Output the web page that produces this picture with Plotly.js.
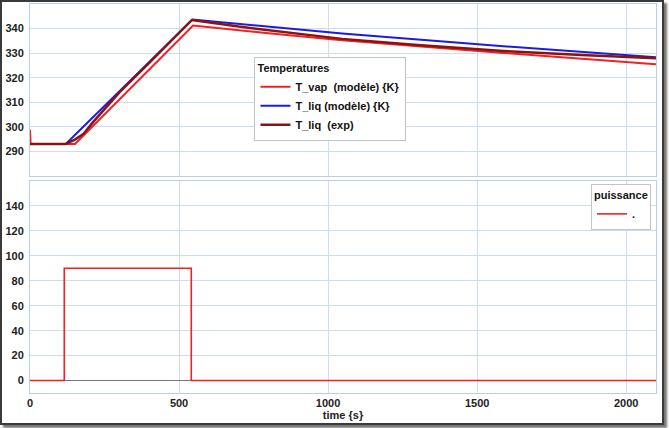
<!DOCTYPE html>
<html>
<head>
<meta charset="utf-8">
<script src="https://cdn.plot.ly/plotly-3.0.1.min.js"></script>
<style>
  html, body { margin: 0; padding: 0; background: #fff; }
  #wrap { position: relative; width: 669px; height: 428px; }
  #chart { position: absolute; left: 0; top: 0; width: 669px; height: 428px; }
  #frame { position: absolute; left: 0; top: 0; width: 660px; height: 421px;
           border: 2px solid #3a3a3a; box-shadow: 3px 3px 2px #777; pointer-events: none; }
</style>
</head>
<body>
<div id="wrap">
  <div id="chart"></div>
  <div id="frame"></div>
</div>
<script>
// ---- data ----
const tvapTime = [0, 2, 151, 547, 800, 1047, 1588, 2100];
const tvapVal  = [298.8, 293.0, 293.0, 341.2, 338.1, 335.2, 330.1, 325.5];

const tliqTime = [0, 120, 545, 1047, 1588, 2100];
const tliqVal  = [293.0, 293.0, 343.7, 338.0, 332.8, 328.3];

const texpTime = [0, 120, 152, 180, 210, 250, 300, 400, 543, 700, 850, 1047, 1300, 1588, 1850, 2100];
const texpVal  = [293.0, 293.0, 294.9, 297.2, 301.7, 307.0, 314.0, 326.0, 343.5, 340.8, 338.6, 335.8, 333.3, 330.9, 329.2, 327.9];

const powerTime = [0, 115, 115, 541, 541, 2100];
const powerVal  = [0, 0, 90, 90, 0, 0];

const seriesNames = ['T_vap  (modèle) {K}', 'T_liq (modèle) {K}', 'T_liq  (exp)', '.'];
const legendTitles = ['Temperatures', 'puissance'];
const xTicks = [0, 500, 1000, 1500, 2000];
const yTopTicks = [290, 300, 310, 320, 330, 340];
const yBotTicks = [0, 20, 40, 60, 80, 100, 120, 140];
const xTitle = 'time {s}';

// ---- styling ----
const FONT = 'Liberation Sans, Arial, sans-serif';
const gridCol = '#cddcef';
const borderCol = '#b9cde6';

const traces = [
  { x: tvapTime, y: tvapVal, name: seriesNames[0], type: 'scatter', mode: 'lines',
    line: { color: '#ee2222', width: 2 }, xaxis: 'x', yaxis: 'y', legend: 'legend' },
  { x: tliqTime, y: tliqVal, name: seriesNames[1], type: 'scatter', mode: 'lines',
    line: { color: '#1c1ce0', width: 2 }, xaxis: 'x', yaxis: 'y', legend: 'legend' },
  { x: texpTime, y: texpVal, name: seriesNames[2], type: 'scatter', mode: 'lines',
    line: { color: '#8a1212', width: 2.5 }, xaxis: 'x', yaxis: 'y', legend: 'legend' },
  { x: powerTime, y: powerVal, name: seriesNames[3], type: 'scatter', mode: 'lines',
    line: { color: '#ee2222', width: 1.6 }, xaxis: 'x2', yaxis: 'y2', legend: 'legend2' }
];

const tickFont = { family: FONT, size: 11, color: '#222', weight: 'bold' };

const axBase = {
  showline: true, mirror: true, linecolor: borderCol, linewidth: 1,
  showgrid: true, gridcolor: gridCol, gridwidth: 1,
  zeroline: false, ticks: '', tickfont: tickFont
};

const layout = {
  width: 669, height: 428,
  margin: { l: 30, r: 13, t: 4, b: 35 },
  paper_bgcolor: '#ffffff', plot_bgcolor: '#ffffff',
  font: { family: FONT, size: 11, color: '#222' },
  showlegend: true,
  xaxis: Object.assign({}, axBase, {
    domain: [0, 1], anchor: 'y', range: [0, 2100],
    tickvals: xTicks, showticklabels: false
  }),
  yaxis: Object.assign({}, axBase, {
    domain: [0.558, 1], anchor: 'x', range: [280, 350],
    tickvals: yTopTicks, ticklabelstandoff: 3
  }),
  xaxis2: Object.assign({}, axBase, {
    domain: [0, 1], anchor: 'y2', range: [0, 2100], matches: 'x',
    tickvals: xTicks, ticklabelstandoff: 0,
    title: { text: xTitle, font: { family: FONT, size: 11, color: '#222', weight: 'bold' }, standoff: 1 }
  }),
  yaxis2: Object.assign({}, axBase, {
    domain: [0, 0.545], anchor: 'x2', range: [-10, 160],
    tickvals: yBotTicks, ticklabelstandoff: 3,
    zeroline: true, zerolinecolor: '#777', zerolinewidth: 1.5
  }),
  legend: {
    title: { text: legendTitles[0], font: { family: FONT, size: 11, color: '#111', weight: 'bold' } },
    x: 0.48, y: 0.864, xanchor: 'center', yanchor: 'top',
    bgcolor: '#ffffff', bordercolor: '#c4c4c4', borderwidth: 1,
    font: { family: FONT, size: 11, color: '#111', weight: 'bold' },
    itemwidth: 30, tracegroupgap: 0
  },
  legend2: {
    title: { text: legendTitles[1], font: { family: FONT, size: 11, color: '#111', weight: 'bold' } },
    x: 0.992, y: 0.537, xanchor: 'right', yanchor: 'top',
    bgcolor: '#ffffff', bordercolor: '#c4c4c4', borderwidth: 1,
    font: { family: FONT, size: 11, color: '#111', weight: 'bold' },
    itemwidth: 30
  }
};

Plotly.newPlot('chart', traces, layout, { displayModeBar: false, staticPlot: true });
</script>
</body>
</html>
